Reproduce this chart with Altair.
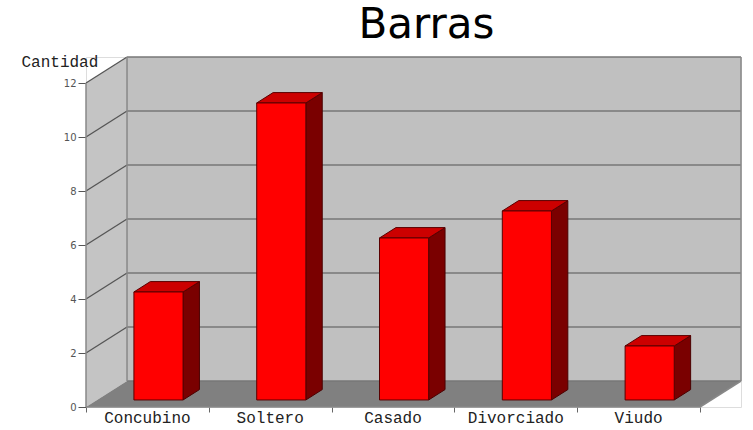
import altair as alt
import pandas as pd

# ---- data ----
categories = ["Concubino", "Soltero", "Casado", "Divorciado", "Viudo"]
values = [4, 11, 6, 7, 2]
y_ticks = [0, 2, 4, 6, 8, 10, 12]

# ---- 3D style constants (in scale units) ----
N = len(categories)
YMAX = 12
D_X = 0.334   # wall depth in x units
D_Y = 0.963   # wall depth in y units
HALF_W = 0.2  # bar half-width
F0 = 0.27     # bar front depth fraction
FD = 0.4      # bar depth fraction

xs = alt.Scale(domain=[0, N + D_X], nice=False, zero=False)
ys = alt.Scale(domain=[0, YMAX + D_Y], nice=False, zero=False)
x_axis = alt.Axis(values=list(range(N + 1)), labels=False, domain=False, grid=False,
                  ticks=True, tickSize=5, tickColor="#666", tickWidth=1, title=None)
y_axis = alt.Axis(values=y_ticks, domain=False, grid=False, tickSize=8, tickColor="#555",
                  tickWidth=1, labelColor="#555", labelFontSize=10, labelPadding=2,
                  labelFont="DejaVu Sans", title="Cantidad", titleAngle=0, titleAlign="left",
                  titleBaseline="middle", titleX=-65, titleY=4, titleFont="Liberation Mono",
                  titleFontSize=16, titleFontWeight="normal", titleColor="#222")


def X(f):
    return alt.X(f, type="quantitative", scale=xs, axis=x_axis)


def Y(f):
    return alt.Y(f, type="quantitative", scale=ys, axis=y_axis, stack=False)


# ---- derived tables ----
left_wall = pd.DataFrame({"x": [0, D_X], "y": [0, D_Y], "y2": [YMAX, YMAX + D_Y]})
back_wall = pd.DataFrame({"x": [D_X], "x2": [N + D_X], "y": [D_Y], "y2": [YMAX + D_Y]})
floor = pd.DataFrame({"y": [0, D_Y], "x": [0, D_X], "x2": [N, N + D_X]})

grid_back = pd.DataFrame({"x": D_X, "x2": N + D_X, "y": [v + D_Y for v in y_ticks]})
grid_left = pd.DataFrame({"x": 0.0, "x2": D_X, "y": [float(v) for v in y_ticks[1:]],
                          "y2": [v + D_Y for v in y_ticks[1:]]})
edges = pd.DataFrame({
    "x": [D_X, N + D_X, 0, 0, N],
    "x2": [D_X, N + D_X, 0, N, N + D_X],
    "y": [D_Y, D_Y, 0, 0, 0],
    "y2": [YMAX + D_Y, YMAX + D_Y, YMAX, 0, D_Y],
})

front_rows, side_rows, top_rows, label_rows = [], [], [], []
for i, (c, v) in enumerate(zip(categories, values)):
    fx0 = i + 0.5 - HALF_W + F0 * D_X
    fx1 = fx0 + 2 * HALF_W
    fy0 = F0 * D_Y
    fy1 = v + fy0
    ddx, ddy = FD * D_X, FD * D_Y
    front_rows.append({"cat": c, "x": fx0, "x2": fx1, "y": fy0, "y2": fy1})
    side_rows += [{"cat": c, "x": fx1, "y": fy0, "y2": fy1},
                  {"cat": c, "x": fx1 + ddx, "y": fy0 + ddy, "y2": fy1 + ddy}]
    top_rows += [{"cat": c, "y": fy1, "x": fx0, "x2": fx1},
                 {"cat": c, "y": fy1 + ddy, "x": fx0 + ddx, "x2": fx1 + ddx}]
    label_rows.append({"cat": c, "x": i + 0.5, "y": 0.0})

front = pd.DataFrame(front_rows)
side = pd.DataFrame(side_rows)
top = pd.DataFrame(top_rows)
labels = pd.DataFrame(label_rows)

# ---- layers ----
l_left = alt.Chart(left_wall).mark_area(color="#c4c4c4", opacity=1).encode(
    x=X("x"), y=Y("y"), y2="y2")
l_back = alt.Chart(back_wall).mark_rect(color="#c0c0c0").encode(
    x=X("x"), x2="x2", y=Y("y"), y2="y2")
l_floor = alt.Chart(floor).mark_area(color="#808080", orient="horizontal", opacity=1).encode(
    y=Y("y"), x=X("x"), x2="x2")
l_gb = alt.Chart(grid_back).mark_rule(color="#777", strokeWidth=1.6).encode(
    x=X("x"), x2="x2", y=Y("y"))
l_gl = alt.Chart(grid_left).mark_rule(color="#555", strokeWidth=1.3).encode(
    x=X("x"), x2="x2", y=Y("y"), y2="y2")
l_edges = alt.Chart(edges).mark_rule(color="#888", strokeWidth=1.5).encode(
    x=X("x"), x2="x2", y=Y("y"), y2="y2")

l_side = alt.Chart(side).mark_area(color="#7a0000", stroke="#4a0000", strokeWidth=1,
                                   opacity=1).encode(
    x=X("x"), y=Y("y"), y2="y2", detail="cat:N")
l_top = alt.Chart(top).mark_area(color="#cc0000", stroke="#5a0000", strokeWidth=1,
                                 orient="horizontal", opacity=1).encode(
    y=Y("y"), x=X("x"), x2="x2", detail="cat:N")
l_front = alt.Chart(front).mark_rect(color="#ff0000", stroke="#5a0000", strokeWidth=1).encode(
    x=X("x"), x2="x2", y=Y("y"), y2="y2")

l_labels = alt.Chart(labels).mark_text(font="Liberation Mono", fontSize=16, color="#222",
                                       baseline="middle", dy=11).encode(
    x=X("x"), y=Y("y"), text="cat:N")

chart = alt.layer(
    l_left, l_back, l_floor, l_gb, l_gl, l_edges, l_side, l_top, l_front, l_labels
).properties(
    width=655, height=350,
    title=alt.TitleParams("Barras", font="DejaVu Sans", fontSize=42, fontWeight="normal",
                          color="#000", anchor="middle", dx=13, offset=6),
    autosize=alt.AutoSizeParams(type="none"),
    padding={"left": 86, "top": 57, "right": 12, "bottom": 23},
).configure_view(stroke=None).configure(background="white")

chart.save("out.html", embed_options={"renderer": "svg", "actions": False})
